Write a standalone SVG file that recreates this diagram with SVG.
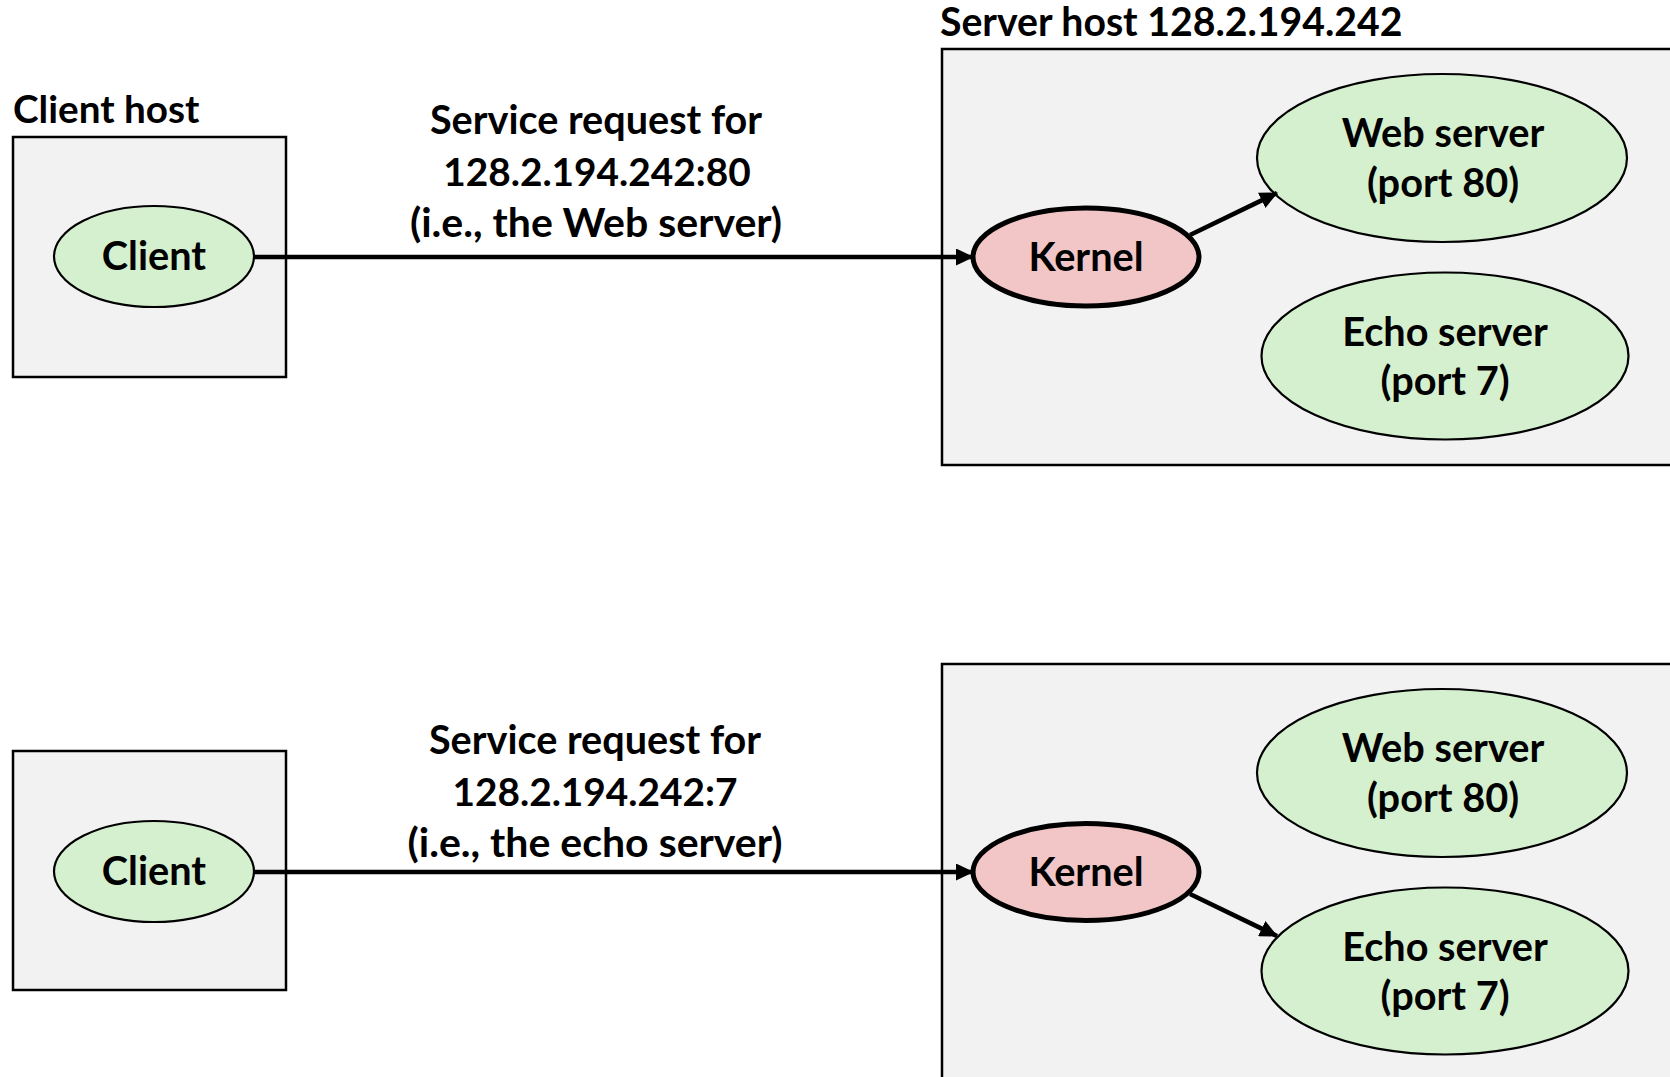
<svg xmlns="http://www.w3.org/2000/svg" width="1670" height="1077" viewBox="0 0 1670 1077">
<style>
text{font-family:Lato,"Open Sans","Liberation Sans",sans-serif;font-weight:bold;fill:#000;font-size:39.7px}
.c{text-anchor:middle}
.host{fill:#f2f2f2;stroke:#000;stroke-width:2.5}
.proc{fill:#d5f0cf;stroke:#000;stroke-width:2.2}
.kern{fill:#f2c6c6;stroke:#000;stroke-width:5}
.conn{stroke:#000;stroke-width:4.6;fill:none;marker-end:url(#ah)}
</style>
<defs>
<marker id="ah" markerUnits="userSpaceOnUse" markerWidth="18" markerHeight="17" refX="17" refY="8.5" orient="auto">
<path d="M0,0 L18,8.5 L0,17 Z" fill="#000"/>
</marker>
</defs>
<rect width="1670" height="1077" fill="#fff"/>

<g id="client-host-1">
<text x="13" y="123" style="font-size:38.7px">Client host</text>
<rect class="host" x="13" y="137" width="273" height="240"/>
</g>
<g id="client-1">
<ellipse class="proc" cx="154" cy="256.5" rx="100" ry="50.5"/>
<text class="c" x="154" y="270">Client</text>
</g>

<g id="server-host-1">
<text x="940" y="36" style="font-size:39.2px">Server host 128.2.194.242</text>
<rect class="host" x="942" y="49" width="740" height="416"/>
</g>
<g id="kernel-1">
<ellipse class="kern" cx="1086" cy="257" rx="113" ry="49"/>
<text class="c" x="1086" y="271">Kernel</text>
</g>
<g id="web-1">
<ellipse class="proc" cx="1442" cy="158" rx="185" ry="84"/>
<text class="c" x="1443" y="147">Web server</text>
<text class="c" x="1443" y="197">(port 80)</text>
</g>
<g id="echo-1">
<ellipse class="proc" cx="1445" cy="356" rx="183.5" ry="83.5"/>
<text class="c" x="1445" y="346">Echo server</text>
<text class="c" x="1445" y="395">(port 7)</text>
</g>
<g id="label-1">
<text class="c" x="596" y="134" style="font-size:39.6px">Service request for</text>
<text class="c" x="597" y="186" style="font-size:38.8px">128.2.194.242:80</text>
<text class="c" x="596" y="237" style="font-size:41px">(i.e., the Web server)</text>
</g>

<g id="client-host-2">
<rect class="host" x="13" y="751" width="273" height="239"/>
</g>
<g id="client-2">
<ellipse class="proc" cx="154" cy="871.5" rx="100" ry="50.5"/>
<text class="c" x="154" y="885">Client</text>
</g>
<g id="server-host-2">
<rect class="host" x="942" y="664" width="740" height="430"/>
</g>
<g id="kernel-2">
<ellipse class="kern" cx="1086" cy="872" rx="113" ry="48.5"/>
<text class="c" x="1086" y="886">Kernel</text>
</g>
<g id="web-2">
<ellipse class="proc" cx="1442" cy="773" rx="185" ry="84"/>
<text class="c" x="1443" y="762">Web server</text>
<text class="c" x="1443" y="812">(port 80)</text>
</g>
<g id="echo-2">
<ellipse class="proc" cx="1445" cy="971" rx="183.5" ry="83.5"/>
<text class="c" x="1445" y="961">Echo server</text>
<text class="c" x="1445" y="1010">(port 7)</text>
</g>
<g id="label-2">
<text class="c" x="595" y="754" style="font-size:39.6px">Service request for</text>
<text class="c" x="595" y="806" style="font-size:38.8px">128.2.194.242:7</text>
<text class="c" x="595" y="857" style="font-size:41px">(i.e., the echo server)</text>
</g>

<g id="connectors">
<line class="conn" x1="254" y1="257" x2="973" y2="257"/>
<line class="conn" x1="1190" y1="235" x2="1277" y2="193"/>
<line class="conn" x1="254" y1="872" x2="973" y2="872"/>
<line class="conn" x1="1190" y1="894" x2="1277" y2="936"/>
</g>
</svg>
